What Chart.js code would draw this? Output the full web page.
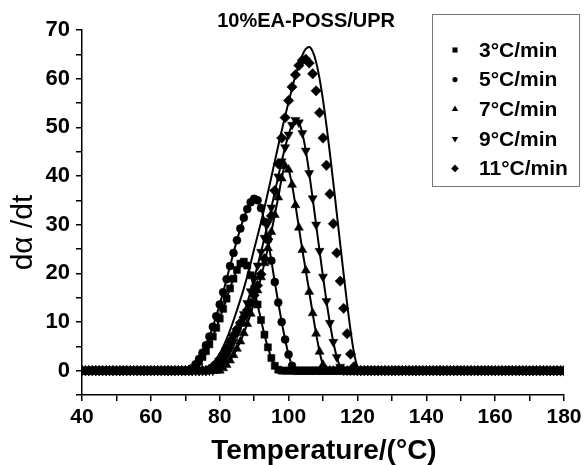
<!DOCTYPE html>
<html><head><meta charset="utf-8">
<script src="https://cdn.jsdelivr.net/npm/chart.js@4.4.1/dist/chart.umd.min.js"></script>
<style>html,body{margin:0;padding:0;background:#fff}#wrap{width:586px;height:465px;position:relative}</style>
</head><body><div id="wrap"><canvas id="c" width="586" height="465"></canvas></div>
<script>
const temps = [40,41,42,43,44,45,46,47,48,49,50,51,52,53,54,55,56,57,58,59,60,61,62,63,64,65,66,67,68,69,70,71,72,73,74,75,76,77,78,79,80,81,82,83,84,85,86,87,88,89,90,91,92,93,94,95,96,97,98,99,100,101,102,103,104,105,106,107,108,109,110,111,112,113,114,115,116,117,118,119,120,121,122,123,124,125,126,127,128,129,130,131,132,133,134,135,136,137,138,139,140,141,142,143,144,145,146,147,148,149,150,151,152,153,154,155,156,157,158,159,160,161,162,163,164,165,166,167,168,169,170,171,172,173,174,175,176,177,178,179,180];

// 3 °C/min (40..180, step 1)
const rate3 = [0,0,0,0,0,0,0,0,0,0,0,0,0,0,0,0,0,0,0,0,0,0,0,0,0,0,0,0,0,0,0,0,
0.4,1.0,1.8,2.8,4.0,5.4,7.0,8.8,10.7,12.7,14.8,16.9,18.9,20.7,22.0,22.4,21.6,19.6,16.8,13.6,10.4,7.4,4.8,2.6,1.0,0.2,
0,0,0,0,0,0,0,0,0,0,0,0,0,0,0,0,0,0,0,0,0,0,0,0,0,0,0,0,0,0,0,0,0,0,0,0,0,0,0,0,0,0,0,0,0,0,0,0,0,0,0,0,0,0,0,0,0,0,0,0,0,0,0,0,0,0,0,0,0,0,0,0,0,0,0,0,0,0,0,0,0,0,0];
// 5 °C/min
const rate5 = [0,0,0,0,0,0,0,0,0,0,0,0,0,0,0,0,0,0,0,0,0,0,0,0,0,0,0,0,0,0,0,0,
0.5,1.3,2.4,3.7,5.2,7.0,9.0,11.2,13.6,16.1,18.8,21.5,24.2,26.8,29.2,31.4,33.2,34.6,35.3,35.0,33.4,30.6,26.9,22.6,18.2,14.0,10.0,6.4,3.3,1.0,
0,0,0,0,0,0,0,0,0,0,0,0,0,0,0,0,0,0,0,0,0,0,0,0,0,0,0,0,0,0,0,0,0,0,0,0,0,0,0,0,0,0,0,0,0,0,0,0,0,0,0,0,0,0,0,0,0,0,0,0,0,0,0,0,0,0,0,0,0,0,0,0,0,0,0,0,0,0,0];
// 7 °C/min
const rate7 = [0,0,0,0,0,0,0,0,0,0,0,0,0,0,0,0,0,0,0,0,0,0,0,0,0,0,0,0,0,0,0,0,0,0,0,0,0,0,0,0,0,
0.5,1.2,2.1,3.2,4.5,6.0,7.7,9.6,11.7,14.0,16.5,19.2,22.1,25.2,28.5,32.0,35.6,39.5,42.0,41.3,38.2,34.0,29.4,24.8,20.6,16.2,11.8,7.6,3.9,1.2,
0,0,0,0,0,0,0,0,0,0,0,0,0,0,0,0,0,0,0,0,0,0,0,0,0,0,0,0,0,0,0,0,0,0,0,0,0,0,0,0,0,0,0,0,0,0,0,0,0,0,0,0,0,0,0,0,0,0,0,0,0,0,0,0,0,0,0,0,0,0];
// 9 °C/min
const rate9 = [0,0,0,0,0,0,0,0,0,0,0,0,0,0,0,0,0,0,0,0,0,0,0,0,0,0,0,0,0,0,0,0,0,0,0,0,0,0,0,
0.4,1.1,2.0,3.1,4.4,5.9,7.6,9.5,11.6,13.9,16.3,18.9,21.6,24.4,27.3,30.3,33.5,36.7,39.9,43.0,45.9,48.5,50.5,51.5,51.0,48.8,45.2,40.6,35.4,30.0,24.6,19.3,14.3,9.8,5.9,2.8,0.8,
0,0,0,0,0,0,0,0,0,0,0,0,0,0,0,0,0,0,0,0,0,0,0,0,0,0,0,0,0,0,0,0,0,0,0,0,0,0,0,0,0,0,0,0,0,0,0,0,0,0,0,0,0,0,0,0,0,0,0,0,0,0,0,0,0];
// 11 °C/min (measured points)
const rate11 = [0,0,0,0,0,0,0,0,0,0,0,0,0,0,0,0,0,0,0,0,0,0,0,0,0,0,0,0,0,0,0,0,0,0,0,0,0,
0.3,0.8,1.5,2.4,3.4,4.6,6.0,7.3,8.5,9.8,11.0,12.4,13.9,15.5,17.5,19.8,23.0,27.0,31.8,37.0,42.5,47.8,52.0,55.5,58.3,60.8,62.7,63.8,64.0,63.2,61.0,57.5,53.0,47.8,42.2,36.3,30.2,24.2,18.4,12.8,7.6,3.4,0.8,
0,0,0,0,0,0,0,0,0,0,0,0,0,0,0,0,0,0,0,0,0,0,0,0,0,0,0,0,0,0,0,0,0,0,0,0,0,0,0,0,0,0,0,0,0,0,0,0,0,0,0,0,0,0,0,0,0,0,0,0,0];
// 11 °C/min fitted curve
const fit11 = [0,0,0,0,0,0,0,0,0,0,0,0,0,0,0,0,0,0,0,0,0,0,0,0,0,0,0,0,0,0,0,0,0,0,0,0,0,
0.5,1.3,2.3,3.5,4.9,6.5,8.3,10.3,12.4,14.6,16.9,19.4,22.1,25.0,27.7,30.5,33.5,36.6,39.8,43.0,46.2,49.3,52.3,55.2,58.0,60.6,62.9,64.8,66.1,66.5,65.6,63.4,60.0,55.6,50.4,44.7,38.6,32.3,26.0,19.8,13.8,8.3,3.7,0.8,
0,0,0,0,0,0,0,0,0,0,0,0,0,0,0,0,0,0,0,0,0,0,0,0,0,0,0,0,0,0,0,0,0,0,0,0,0,0,0,0,0,0,0,0,0,0,0,0,0,0,0,0,0,0,0,0,0,0,0,0];

const seriesLabels = ['3°C/min','5°C/min','7°C/min','9°C/min','11°C/min'];
const xTickLabels = [40,60,80,100,120,140,160,180];
const yTickLabels = [0,10,20,30,40,50,60,70];
const chartTitle = '10%EA-POSS/UPR';
const xTitle = 'Temperature/(°C)';
const yTitle = 'dα /dt';

const FONT = '"Liberation Sans", Arial, Helvetica, sans-serif';
const markerSeries = [rate3, rate5, rate7, rate9, rate11];
const fitSeries = [rate3, rate5, rate7, rate9, fit11];
const styles = [
  {pointStyle:'rect', rotation:0, radius:5},
  {pointStyle:'circle', rotation:0, radius:4},
  {pointStyle:'triangle', rotation:0, radius:5.2},
  {pointStyle:'triangle', rotation:180, radius:5.2},
  {pointStyle:'rectRot', rotation:0, radius:5.2}
];
const toXY = arr => temps.map((t, i) => ({x: t, y: arr[i]}));

const datasets = [];
markerSeries.forEach((arr, i) => {
  datasets.push({
    label: seriesLabels[i], data: toXY(arr), showLine: false,
    pointStyle: styles[i].pointStyle, rotation: styles[i].rotation, pointRadius: styles[i].radius,
    pointBackgroundColor: '#000', pointBorderColor: '#000', pointBorderWidth: 0.5, order: 2
  });
});
fitSeries.forEach((arr, i) => {
  datasets.push({
    label: 'fit ' + seriesLabels[i], data: toXY(arr), showLine: true, pointRadius: 0,
    borderColor: '#000', borderWidth: 2, cubicInterpolationMode: 'monotone', order: 1, fill: false
  });
});

function fallbackPoint(ctx, st, x, y) {
  ctx.beginPath();
  const r = st.radius;
  if (st.pointStyle === 'circle') { ctx.arc(x, y, r, 0, Math.PI * 2); }
  else if (st.pointStyle === 'rect') { const s = r * Math.SQRT1_2; ctx.rect(x - s, y - s, 2 * s, 2 * s); }
  else if (st.pointStyle === 'rectRot') { ctx.moveTo(x, y - r); ctx.lineTo(x + r, y); ctx.lineTo(x, y + r); ctx.lineTo(x - r, y); ctx.closePath(); }
  else { const d = st.rotation ? -1 : 1; ctx.moveTo(x, y - d * r); ctx.lineTo(x + r * 0.866, y + d * r * 0.5); ctx.lineTo(x - r * 0.866, y + d * r * 0.5); ctx.closePath(); }
  ctx.fill();
}

const decor = {
  id: 'decor',
  afterDraw(chart) {
    const ctx = chart.ctx, a = chart.chartArea;
    ctx.save();
    ctx.fillStyle = '#000';
    // chart title
    ctx.font = 'bold 20px ' + FONT;
    ctx.textAlign = 'center'; ctx.textBaseline = 'alphabetic';
    ctx.fillText(chartTitle, a.left + (a.right - a.left) * 0.465, 27);
    // x title
    ctx.font = 'bold 28px ' + FONT;
    ctx.fillText(xTitle, (a.left + a.right) / 2 + 1, 459);
    // y title
    ctx.save();
    ctx.font = '30px ' + FONT;
    ctx.translate(24, (a.top + a.bottom) / 2 + 20);
    ctx.rotate(-Math.PI / 2);
    ctx.textBaseline = 'middle';
    ctx.fillText(yTitle, 0, 0);
    ctx.restore();
    // legend box
    ctx.strokeStyle = '#777'; ctx.lineWidth = 1;
    ctx.strokeRect(432.5, 14.5, 147, 172);
    ctx.font = 'bold 21px ' + FONT;
    ctx.textAlign = 'left'; ctx.textBaseline = 'middle';
    seriesLabels.forEach((lab, i) => {
      const y = 50 + i * 29.6;
      const st = {pointStyle: styles[i].pointStyle, rotation: styles[i].rotation, radius: styles[i].radius - 1.4, borderWidth: 0};
      ctx.fillStyle = '#000';
      if (Chart.helpers && Chart.helpers.drawPoint) Chart.helpers.drawPoint(ctx, st, 455, y);
      else fallbackPoint(ctx, st, 455, y);
      ctx.fillStyle = '#000';
      ctx.fillText(lab, 479, y + 1);
    });
    ctx.restore();
  }
};

new Chart(document.getElementById('c'), {
  type: 'line',
  data: { datasets },
  options: {
    responsive: false, animation: false, devicePixelRatio: 1,
    layout: { padding: { top: 30, right: 22, left: 0, bottom: 0 } },
    plugins: { legend: { display: false }, tooltip: { enabled: false }, title: { display: false } },
    scales: {
      x: {
        type: 'linear', min: 40, max: 180,
        afterFit: s => { s.height = 70; },
        border: { display: true, color: '#000', width: 1.5 },
        grid: { drawOnChartArea: false, drawTicks: true, tickLength: 6, color: '#000', lineWidth: 1.5 },
        ticks: { stepSize: 10, autoSkip: false, maxRotation: 0, padding: 4, color: '#000',
          font: { family: FONT, size: 21, weight: 'bold' },
          callback: v => xTickLabels.includes(v) ? String(v) : '' }
      },
      y: {
        min: -5, max: 70,
        afterFit: s => { s.width = 82; },
        border: { display: true, color: '#000', width: 1.5 },
        grid: { drawOnChartArea: false, drawTicks: true, tickLength: 6, color: '#000', lineWidth: 1.5 },
        ticks: { stepSize: 5, autoSkip: false, padding: 6, color: '#000',
          font: { family: FONT, size: 22, weight: 'bold' },
          callback: v => yTickLabels.includes(v) ? String(v) : '' }
      }
    }
  },
  plugins: [decor]
});
</script>
</body></html>
